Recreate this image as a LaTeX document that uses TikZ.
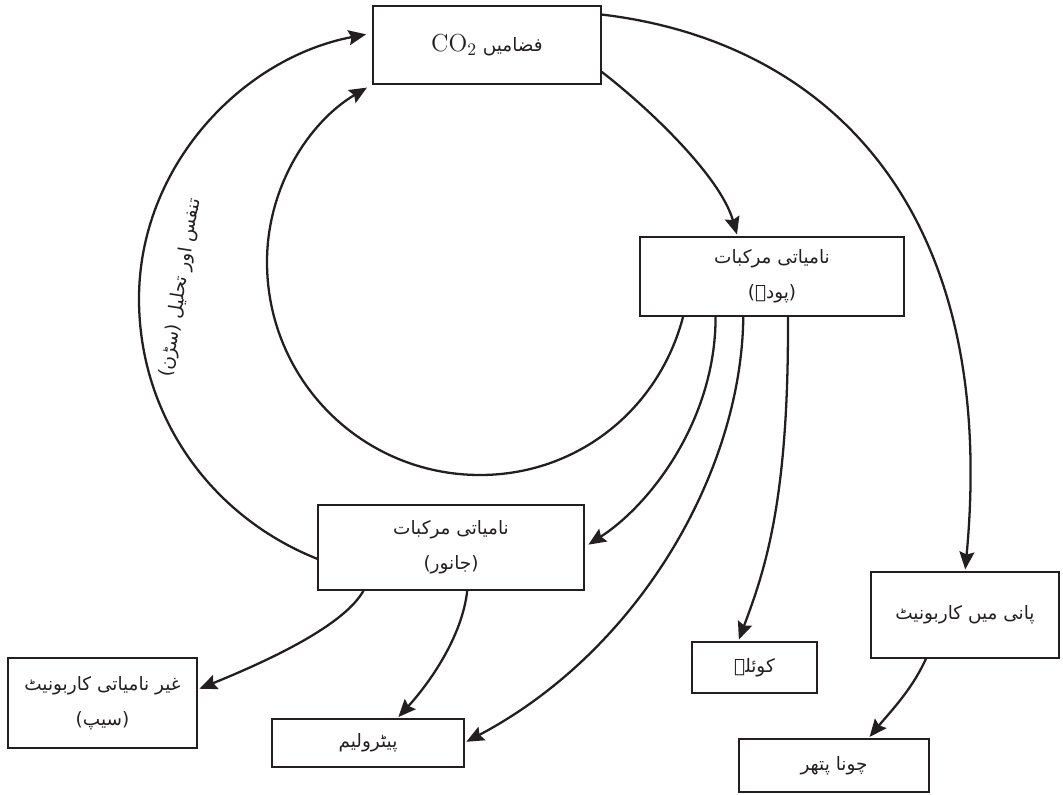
\documentclass[tikz,border=0pt]{standalone}
\usepackage{fontspec}
\newfontfamily\urdufont[Script=Arabic]{DejaVu Sans}
\TeXXeTstate=1
\usetikzlibrary{arrows.meta,calc}
\definecolor{ink}{HTML}{231F20}
\begin{document}
\begin{tikzpicture}[x=0.02cm,y=-0.02cm,
  box/.style={draw=ink, text=ink, line width=1.6pt, inner sep=0pt, outer sep=0pt, align=center,
    font=\urdufont\fontsize{10.5}{20}\selectfont},
  flow/.style={draw=ink, line width=1.3pt, -{Stealth[length=10pt,width=8.5pt,inset=1.5pt]}, shorten >=1.5pt},
  farflow/.style={flow, shorten >=4pt}]
\useasboundingbox (0,0) rectangle (1063,795);

\node[box, minimum width=4.56cm, minimum height=1.56cm] (co2) at (487,45)
  {{\rmfamily\fontsize{14}{16}\selectfont CO$_2$}\ \beginR فضامیں\endR};
\node[box, minimum width=5.28cm, minimum height=1.58cm] (plants) at (772,276.5)
  {\beginR نامیاتی مرکبات\endR\\\beginR (پودے)\endR};
\node[box, minimum width=5.32cm, minimum height=1.70cm] (anim) at (451,547.5)
  {\beginR نامیاتی مرکبات\endR\\\beginR (جانور)\endR};
\node[box, minimum width=3.78cm, minimum height=1.80cm] (inorg) at (102.5,703)
  {\beginR غیر نامیاتی کاربونیٹ\endR\\\beginR (سیپ)\endR};
\node[box, minimum width=3.84cm, minimum height=0.96cm] (petro) at (368,743)
  {\beginR پیٹرولیم\endR};
\node[box, minimum width=2.50cm, minimum height=1.02cm] (coal) at (754.5,667.5)
  {\beginR کوئلہ\endR};
\node[box, minimum width=3.76cm, minimum height=1.72cm] (water) at (965,615)
  {\beginR پانی میں کاربونیٹ\endR};
\node[box, minimum width=3.80cm, minimum height=1.06cm] (lime) at (834,765.5)
  {\beginR چونا پتھر\endR};

\node[text=ink, rotate=81, font=\urdufont\fontsize{10.5}{13}\selectfont] (lbl) at (181,288)
  {\beginR تنفس اور تحلیل (سڑن)\endR};

% respiration / decay (outer arc)
\draw[farflow] (anim.185) .. controls (209,516) and (139,414) .. (139,299)
  .. controls (139,166) and (242,58) .. (co2.174);
% inner cycle
\draw[farflow] (plants.204) .. controls (659,410) and (577,475) .. (480,475)
  .. controls (362,475) and (267,380) .. (267,262)
  .. controls (267,187) and (309,122) .. (co2.south west);
\draw[flow] (co2.347) .. controls (645,105) and (720,175) .. (plants.131);
\draw[flow] (co2.15) .. controls (820,40) and (1000,200) .. (water.north);
\draw[flow, shorten >=3pt] (plants.215) .. controls (716,420) and (650,505) .. (anim.east);
\draw[flow] (plants.234) .. controls (742,470) and (640,650) .. (petro.east);
\draw[flow] (plants.292) .. controls (789,500) and (765,570) .. (coal.123);
\draw[flow] (anim.206) .. controls (345,625) and (270,660) .. (inorg.8);
\draw[flow] (anim.291) .. controls (462,640) and (425,688) .. (petro.40);
\draw[flow] (water.228) .. controls (912,690) and (890,712) .. (lime.38);
\end{tikzpicture}
\end{document}
